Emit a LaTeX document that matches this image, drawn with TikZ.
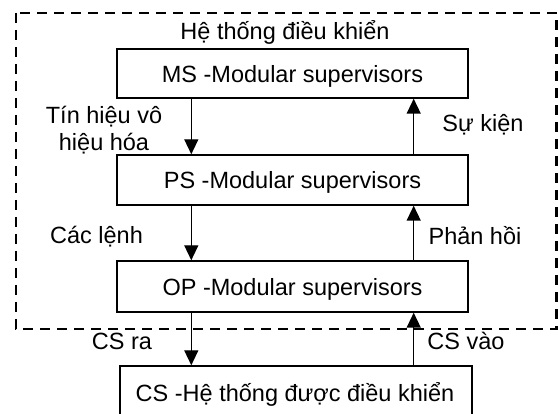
\documentclass[tikz,border=0pt]{standalone}
\usepackage{fontspec}
\setmainfont{Liberation Sans}
\usetikzlibrary{arrows.meta}
\begin{document}
\begin{tikzpicture}[x=1pt,y=-1pt,
  every node/.style={font=\fontsize{23.5}{27}\selectfont},
  modbox/.style={draw,line width=1.4pt,minimum width=351pt,inner sep=0pt},
  lbl/.style={anchor=base,inner sep=0pt},
  arr/.style={line width=1.4pt,-{Triangle[length=15pt,width=14pt]}},
  frame/.style={line width=2.8pt,dash pattern=on 10pt off 7pt}]
\useasboundingbox (0,0) rectangle (558,414);
% dashed frame of the control system
\draw[frame] (16,13) rectangle (556.8,329);
% boxes
\node[modbox,minimum height=49pt] (ms) at (292.5,73.5) {};
\node[modbox,minimum height=50pt] (ps) at (292.5,180) {};
\node[modbox,minimum height=51pt] (op) at (292.5,286.5) {};
\node[modbox,minimum height=50pt,minimum width=352pt] (cs) at (296,391) {};
% box texts
\node[lbl] (mst) at (292.5,83) {MS -Modular supervisors};
\node[lbl] (pst) at (292.5,189) {PS -Modular supervisors};
\node[lbl] (opt) at (292.5,295.5) {OP -Modular supervisors};
\node[lbl] (cst) at (295,402) {CS -Hệ thống được điều khiển};
% title
\node[lbl] (title) at (285,40) {Hệ thống điều khiển};
% arrows
\draw[arr] ([xshift=75pt]ms.south west) -- ([xshift=75pt]ps.north west);
\draw[arr] ([xshift=75pt]ps.south west) -- ([xshift=75pt]op.north west);
\draw[arr] ([xshift=75pt]op.south west) -- ([xshift=72pt]cs.north west);
\draw[arr] ([xshift=-55pt]ps.north east) -- ([xshift=-55pt]ms.south east);
\draw[arr] ([xshift=-55pt]op.north east) -- ([xshift=-55pt]ps.south east);
\draw[arr] ([xshift=-59pt]cs.north east) -- ([xshift=-55pt]op.south east);
% labels
\node[lbl] (l1a) at (104,124) {Tín hiệu vô};
\node[lbl] (l1b) at (104,150.5) {hiệu hóa};
\node[lbl] (l2) at (483,132) {Sự kiện};
\node[lbl] (l3) at (96.5,244) {Các lệnh};
\node[lbl] (l4) at (475,245) {Phản hồi};
\node[lbl] (l5) at (122,350) {CS ra};
\node[lbl] (l6) at (466,350) {CS vào};
\end{tikzpicture}
\end{document}
